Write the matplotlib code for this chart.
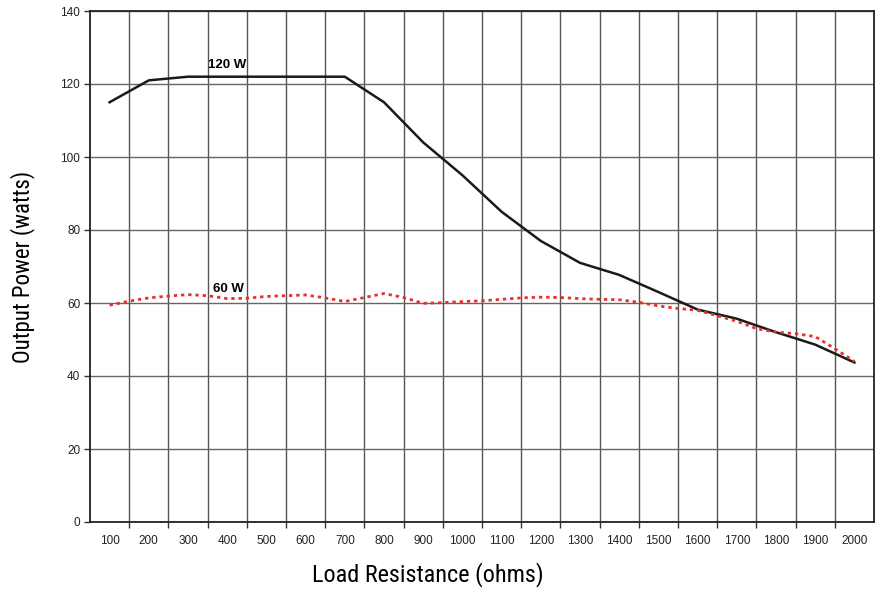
import matplotlib
matplotlib.use("Agg")
import matplotlib.pyplot as plt
import numpy as np

# 120 W curve, read at every 100 ohms
x_120 = [100, 200, 300, 400, 500, 600, 700, 800, 900, 1000,
         1100, 1200, 1300, 1400, 1500, 1600, 1700, 1800, 1900, 2000]
p_120 = [115, 121, 122, 122, 122, 122, 122, 115, 104, 95,
         85, 77, 71, 67.7, 63, 58.2, 55.7, 52, 48.6, 43.7]

# 60 W curve (smooth dotted), read at every 50 ohms
x_60 = [100, 150, 200, 250, 300, 350, 400, 450, 500, 550, 600, 650, 700,
        750, 800, 850, 900, 950, 1000, 1050, 1100, 1150, 1200, 1250, 1300,
        1350, 1400, 1450, 1500, 1550, 1600, 1650, 1700, 1750, 1800, 1850,
        1900, 1950, 2000]
p_60 = [59.4, 60.5, 61.4, 61.9, 62.3, 62.0, 61.2, 61.3, 61.8, 62.0, 62.2,
        61.4, 60.4, 61.5, 62.6, 61.5, 59.9, 60.1, 60.4, 60.6, 61.0, 61.4,
        61.6, 61.5, 61.2, 61.0, 60.9, 60.2, 59.2, 58.5, 58.0, 56.5, 55.0,
        53.0, 52.0, 51.6, 50.8, 47.5, 44.0]

tick_labels = [str(v) for v in range(100, 2001, 100)]

label_font = ["Roboto Condensed", "Roboto", "DejaVu Sans"]
tick_font = ["Liberation Sans", "DejaVu Sans"]

fig = plt.figure(figsize=(8.8, 5.92), dpi=100)
ax = fig.add_axes([90 / 880, 1 - 522 / 592, 784 / 880, 511 / 592])

ax.plot(x_120, p_120, color="#1a1a1a", lw=1.8, zorder=3)
ax.plot(x_60, p_60, color="#e8302c", lw=2.0, ls=(0, (1.2, 1.4)), zorder=3)

# curve labels
ax.text(352, 123.6, "120 W", fontsize=9.5, fontweight="bold",
        family=tick_font, ha="left", va="bottom")
ax.text(363, 63.8, "60 W", fontsize=9.5, fontweight="bold",
        family=tick_font, ha="left", va="center")

ax.set_xlim(50, 2050)
ax.set_ylim(0, 140)

ax.set_xticks(range(100, 2001, 100))
ax.set_xticklabels(tick_labels, family=tick_font, fontsize=8.5, color="#222222")
ax.set_xticks(np.arange(150, 2000, 100), minor=True)
ax.set_yticks(range(0, 141, 20))
ax.set_yticklabels([str(v) for v in range(0, 141, 20)], family=tick_font,
                   fontsize=8.5, color="#222222")

ax.tick_params(axis="x", which="major", length=0, pad=9)
ax.tick_params(axis="x", which="minor", length=4, width=1, color="#333333", direction="out")
ax.tick_params(axis="y", length=4, width=1, color="#333333", direction="out", pad=3)

ax.grid(True, axis="x", which="minor", color="#555555", lw=1.0)
ax.grid(True, axis="y", which="major", color="#666666", lw=1.0)
ax.set_axisbelow(True)

for s in ax.spines.values():
    s.set_color("#222222")
    s.set_linewidth(1.3)

ax.set_xlabel("Load Resistance (ohms)", family=label_font, fontsize=17.5)
ax.xaxis.set_label_coords(0.431, -0.078, transform=ax.transAxes)
ax.set_ylabel("Output Power (watts)", family=label_font, fontsize=16.5, labelpad=18)

fig.savefig("out.png", dpi=100)
